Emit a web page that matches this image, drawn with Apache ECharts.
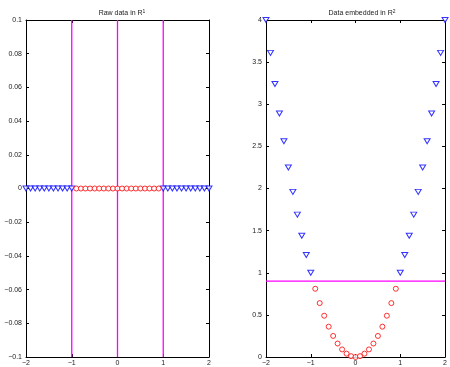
<!DOCTYPE html>
<html><head><meta charset="utf-8">
<script src="https://cdn.jsdelivr.net/npm/echarts@6/dist/echarts.min.js"></script>
<style>html,body{margin:0;padding:0;background:#fff}#c{width:450px;height:367px}</style>
</head><body><div id="c"></div>
<script>
// Left panel: raw data on a line (y = 0)
var rawBlueX = [-2,-1.9,-1.8,-1.7,-1.6,-1.5,-1.4,-1.3,-1.2,-1.1,-1,1,1.1,1.2,1.3,1.4,1.5,1.6,1.7,1.8,1.9,2];
var rawBlueY = [0,0,0,0,0,0,0,0,0,0,0,0,0,0,0,0,0,0,0,0,0,0];
var rawRedX = [-0.9,-0.8,-0.7,-0.6,-0.5,-0.4,-0.3,-0.2,-0.1,0,0.1,0.2,0.3,0.4,0.5,0.6,0.7,0.8,0.9];
var rawRedY = [0,0,0,0,0,0,0,0,0,0,0,0,0,0,0,0,0,0,0];
var splitX = [-1, 0, 1];

// Right panel: embedded data
var embBlueX = [-2,-1.9,-1.8,-1.7,-1.6,-1.5,-1.4,-1.3,-1.2,-1.1,-1,1,1.1,1.2,1.3,1.4,1.5,1.6,1.7,1.8,1.9,2];
var embBlueY = [4,3.61,3.24,2.89,2.56,2.25,1.96,1.69,1.44,1.21,1,1,1.21,1.44,1.69,1.96,2.25,2.56,2.89,3.24,3.61,4];
var embRedX = [-0.9,-0.8,-0.7,-0.6,-0.5,-0.4,-0.3,-0.2,-0.1,0,0.1,0.2,0.3,0.4,0.5,0.6,0.7,0.8,0.9];
var embRedY = [0.81,0.64,0.49,0.36,0.25,0.16,0.09,0.04,0.01,0,0.01,0.04,0.09,0.16,0.25,0.36,0.49,0.64,0.81];
var splitY = 0.9;

var xTicks = [-2, -1, 0, 1, 2];
var leftYTicks = [-0.1, -0.08, -0.06, -0.04, -0.02, 0, 0.02, 0.04, 0.06, 0.08, 0.1];
var rightYTicks = [0, 0.5, 1, 1.5, 2, 2.5, 3, 3.5, 4];

function zip(a, b) { return a.map(function (v, i) { return [v, b[i]]; }); }
function fmt(v) { var s = String(+v.toFixed(4)); return s.replace('-', '\u2212'); }

var FONT = 'Liberation Sans, Arial, sans-serif';
var labelStyle = { fontSize: 7, color: '#222', fontFamily: FONT };

function xAxis(grid, pos, ticks, show) {
  return {
    type: 'value', gridIndex: grid, position: pos,
    min: ticks[0], max: ticks[ticks.length - 1], interval: ticks[1] - ticks[0],
    axisLine: { show: true, onZero: false, lineStyle: { color: '#000', width: 1 } },
    axisTick: { show: true, inside: true, length: 3, lineStyle: { color: '#000' } },
    axisLabel: Object.assign({ show: show, margin: 3, formatter: fmt }, labelStyle),
    splitLine: { show: false }
  };
}
function yAxis(grid, pos, ticks, show) {
  return {
    type: 'value', gridIndex: grid, position: pos,
    min: ticks[0], max: ticks[ticks.length - 1], interval: +(ticks[1] - ticks[0]).toFixed(4),
    axisLine: { show: true, onZero: false, lineStyle: { color: '#000', width: 1 } },
    axisTick: { show: true, inside: true, length: 3, lineStyle: { color: '#000' } },
    axisLabel: Object.assign({ show: show, margin: 4, formatter: fmt }, labelStyle),
    splitLine: { show: false }
  };
}

var triStyle = { color: '#fff', borderColor: '#0000ff', borderWidth: 1 };
var cirStyle = { color: '#fff', borderColor: '#ff0000', borderWidth: 1 };

var vlines = splitX.map(function (x) {
  return { type: 'line', xAxisIndex: 0, yAxisIndex: 0, data: [[x, leftYTicks[0]], [x, leftYTicks[leftYTicks.length - 1]]],
    symbol: 'none', lineStyle: { color: '#ff00ff', width: 1.3 }, z: 1, silent: true };
});

var option = {
  animation: false,
  backgroundColor: '#fff',
  title: [
    { text: 'Raw data in R{s|1}', left: 117, top: 4, textAlign: 'center',
      textStyle: { fontSize: 7, fontWeight: 'normal', color: '#222', fontFamily: FONT, rich: { s: { fontSize: 5, verticalAlign: 'top', padding: [0, 0, 4, 0], color: '#222', fontFamily: FONT } } } },
    { text: 'Data embedded in R{s|2}', left: 357, top: 4, textAlign: 'center',
      textStyle: { fontSize: 7, fontWeight: 'normal', color: '#222', fontFamily: FONT, rich: { s: { fontSize: 5, verticalAlign: 'top', padding: [0, 0, 4, 0], color: '#222', fontFamily: FONT } } } }
  ],
  grid: [
    { left: 26, top: 20, width: 183, height: 338, show: false },
    { left: 266, top: 20, width: 182, height: 338, show: false }
  ],
  xAxis: [
    xAxis(0, 'bottom', xTicks, true), xAxis(0, 'top', xTicks, false),
    xAxis(1, 'bottom', xTicks, true), xAxis(1, 'top', xTicks, false)
  ],
  yAxis: [
    yAxis(0, 'left', leftYTicks, true), yAxis(0, 'right', leftYTicks, false),
    yAxis(1, 'left', rightYTicks, true), yAxis(1, 'right', rightYTicks, false)
  ],
  series: vlines.concat([
    { type: 'scatter', xAxisIndex: 0, yAxisIndex: 0, data: zip(rawBlueX, rawBlueY), symbol: 'triangle', symbolRotate: 180, symbolSize: [6, 5], itemStyle: triStyle, z: 3 },
    { type: 'scatter', xAxisIndex: 0, yAxisIndex: 0, data: zip(rawRedX, rawRedY), symbol: 'circle', symbolSize: 5, itemStyle: cirStyle, z: 3 },
    { type: 'line', xAxisIndex: 2, yAxisIndex: 2, data: [[xTicks[0], splitY], [xTicks[xTicks.length - 1], splitY]], symbol: 'none', lineStyle: { color: '#ff00ff', width: 1.3 }, z: 1 },
    { type: 'scatter', xAxisIndex: 2, yAxisIndex: 2, data: zip(embBlueX, embBlueY), symbol: 'triangle', symbolRotate: 180, symbolSize: [6, 5], itemStyle: triStyle, z: 3 },
    { type: 'scatter', xAxisIndex: 2, yAxisIndex: 2, data: zip(embRedX, embRedY), symbol: 'circle', symbolSize: 5, itemStyle: cirStyle, z: 3 }
  ])
};
var chart = echarts.init(document.getElementById('c'), null, { renderer: 'canvas' });
chart.setOption(option);
</script>
</body></html>
